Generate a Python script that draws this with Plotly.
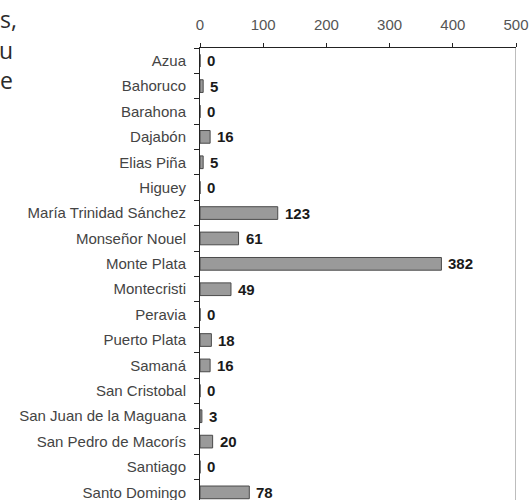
import plotly.graph_objects as go

# Provinces and counts
provinces = [
    "Azua", "Bahoruco", "Barahona", "Dajabón", "Elias Piña", "Higuey",
    "María Trinidad Sánchez", "Monseñor Nouel", "Monte Plata", "Montecristi",
    "Peravia", "Puerto Plata", "Samaná", "San Cristobal",
    "San Juan de la Maguana", "San Pedro de Macorís", "Santiago", "Santo Domingo",
]
counts = [0, 5, 0, 16, 5, 0, 123, 61, 382, 49, 0, 18, 16, 0, 3, 20, 0, 78]

x_ticks = [0, 100, 200, 300, 400, 500]

# Fragments of the surrounding paragraph text at the left edge
side_text = ["s,", "u", "e"]

W, H = 531, 500
L, R, T, B = 200, 15, 48, 0
plot_w, plot_h = W - L - R, H - T - B


def px_to_paper(px, py):
    return (px - L) / plot_w, (H - B - py) / plot_h


fig = go.Figure()
fig.add_trace(go.Bar(
    y=provinces,
    x=counts,
    orientation="h",
    width=0.5,
    marker=dict(color="#9a9a9a", line=dict(color="#4a4a4a", width=1)),
    hoverinfo="skip",
))

# Value labels just right of each bar end
for name, v in zip(provinces, counts):
    fig.add_annotation(
        x=v, y=name, xref="x", yref="y", text=str(v),
        xanchor="left", yanchor="middle", xshift=5, showarrow=False,
        font=dict(family="Liberation Sans, Arial", size=15, color="#1a1a1a", weight="bold"),
    )

# Light grey right frame of the plot area
fig.add_shape(type="line", xref="x", yref="paper", x0=500, x1=500, y0=0, y1=1,
              line=dict(color="#bdbdbd", width=2))

for (txt, px, py) in zip(side_text, [19, 15, 15], [19, 50, 80]):
    ax, ay = px_to_paper(px, py)
    fig.add_annotation(text=txt, xref="paper", yref="paper", x=ax, y=ay,
                       xanchor="right", yanchor="middle", showarrow=False,
                       font=dict(family="Open Sans", size=23, color="#2b2b2b"))

fig.update_layout(
    width=W, height=H,
    margin=dict(l=L, r=R, t=T, b=B, pad=0),
    paper_bgcolor="white", plot_bgcolor="white",
    showlegend=False,
    font=dict(family="Liberation Sans, Arial", size=15, color="#3a3a3a"),
)
fig.update_xaxes(
    side="top", range=[0, 500], tickvals=x_ticks, ticktext=[str(v) for v in x_ticks],
    showgrid=False, zeroline=False,
    showline=True, linecolor="#222222", linewidth=1,
    ticks="outside", ticklen=4, tickcolor="#222222",
    ticklabelstandoff=7,
    tickfont=dict(size=15, color="#555555"),
)
fig.update_yaxes(
    type="category", categoryorder="array", categoryarray=provinces,
    range=[17.3, -0.5],
    showgrid=False, zeroline=False,
    showline=True, linecolor="#222222", linewidth=1,
    ticks="outside", ticklen=5, tickcolor="#222222", tickson="boundaries",
    ticklabelstandoff=10,
    tickfont=dict(size=15, color="#444444"),
)

fig.write_html("out.html")
